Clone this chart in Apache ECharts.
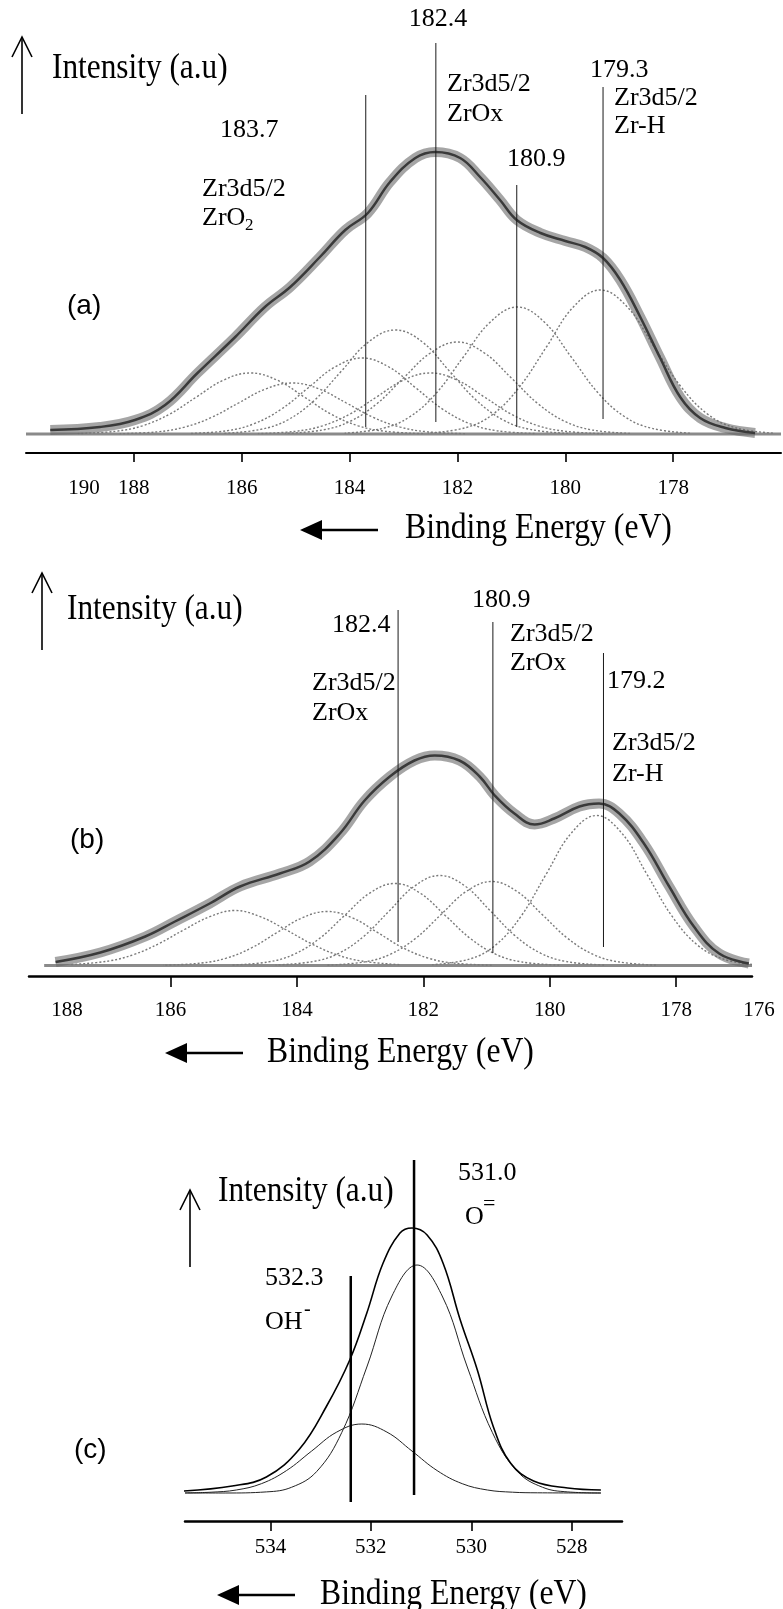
<!DOCTYPE html>
<html>
<head>
<meta charset="utf-8">
<script src="https://cdn.jsdelivr.net/npm/echarts@6/dist/echarts.min.js"></script>
<style>
html,body{margin:0;padding:0;background:#fff;}
#chart{width:783px;height:1609px;}
</style>
</head>
<body>
<div id="chart"></div>
<script>
// ---------- DATA ----------
// Panel (a): Zr3d5/2, binding energy (eV) vs intensity (a.u.)
const ticksA = [188, 186, 184, 182, 180, 178];
const envelopeA = [[189.55,4],[188.63,7],[187.98,14],[187.42,29],[186.82,61],[186.12,97],[185.57,127],[185.10,147],[184.55,177],[184.08,204],[183.66,221],[183.25,252],[182.78,276],[182.41,282],[181.95,276],[181.58,257],[181.21,234],[180.90,214],[180.46,201],[180.00,193],[179.63,187],[179.30,176],[178.98,154],[178.61,117],[178.24,76],[177.87,37],[177.50,16],[177.03,6],[176.48,1]];
const compA1 = [[182.64,0.4],[183.34,2.7],[183.84,8.2],[184.34,19.8],[184.84,37],[185.34,53.8],[185.84,61],[186.34,53.8],[186.84,37],[187.34,19.8],[187.84,8.2],[188.34,2.7],[189.04,0.4]];
const compA2 = [[181.86,0.3],[182.56,2.2],[183.06,6.9],[183.56,16.6],[184.06,31],[184.56,45],[185.06,51],[185.56,45],[186.06,31],[186.56,16.6],[187.06,6.9],[187.56,2.2],[188.26,0.3]];
const compA3 = [[180.57,0.5],[181.27,3.3],[181.77,10.3],[182.27,24.7],[182.77,46],[183.27,67],[183.77,76],[184.27,67],[184.77,46],[185.27,24.7],[185.77,10.3],[186.27,3.3],[186.97,0.5]];
const compA4 = [[179.95,0.6],[180.65,4.6],[181.15,14],[181.65,33.8],[182.15,63],[182.65,92],[183.15,104],[183.65,92],[184.15,63],[184.65,33.8],[185.15,14],[185.65,4.6],[186.35,0.6]];
const compA5 = [[179.30,0.4],[180.00,2.7],[180.50,8.2],[181.00,19.8],[181.50,37],[182.00,53.8],[182.50,61],[183.00,53.8],[183.50,37],[184.00,19.8],[184.50,8.2],[185.00,2.7],[185.70,0.4]];
const compA6 = [[178.80,0.6],[179.50,4],[180.00,12.4],[180.50,30],[181.00,56],[181.50,81],[182.00,92],[182.50,81],[183.00,56],[183.50,30],[184.00,12.4],[184.50,4],[185.20,0.6]];
const compA7 = [[177.69,0.8],[178.39,5.6],[178.89,17],[179.39,41],[179.89,77],[180.39,112],[180.89,127],[181.39,112],[181.89,77],[182.39,41],[182.89,17],[183.39,5.6],[184.09,0.8]];
const compA8 = [[176.15,0.9],[176.85,6.3],[177.35,19.4],[177.85,47],[178.35,87],[178.85,127],[179.35,144],[179.85,127],[180.35,87],[180.85,47],[181.35,19.4],[181.85,6.3],[182.55,0.9]];
const baselineA = [[190,0],[176,0]];
const peakEnergyA = [183.7, 182.4, 180.9, 179.3];
const peakLowA = [7, 12, 7, 15];
const peakHighA = [339, 391, 249, 347];

// Panel (b)
const ticksB = [186, 184, 182, 180, 178];
const envelopeB = [[187.82,3.5],[187.11,13],[186.40,29],[185.93,44],[185.38,62],[184.90,79],[184.27,92],[183.80,104],[183.32,132],[182.93,165],[182.53,189],[182.14,205],[181.82,210],[181.43,205],[181.11,189],[180.87,170],[180.56,152],[180.24,141],[179.93,147],[179.53,159],[179.22,162],[178.90,152],[178.51,122],[178.11,79],[177.72,39],[177.32,12],[176.85,2]];
const compB1 = [[182.38,0.9],[182.98,4.5],[183.38,11],[183.78,22],[184.18,36],[184.58,48.8],[184.98,55],[185.38,48.8],[185.78,36],[186.18,22],[186.58,11],[186.98,4.5],[187.58,0.9]];
const compB2 = [[180.92,0.3],[181.52,2.4],[181.92,7.3],[182.32,17.6],[182.72,32.8],[183.12,47.6],[183.52,54],[183.92,47.6],[184.32,32.8],[184.72,17.6],[185.12,7.3],[185.52,2.4],[186.12,0.3]];
const compB3 = [[179.85,0.4],[180.45,3.6],[180.85,11.1],[181.25,26.7],[181.65,49.8],[182.05,72.3],[182.45,82],[182.85,72.3],[183.25,49.8],[183.65,26.7],[184.05,11.1],[184.45,3.6],[185.05,0.4]];
const compB4 = [[179.14,0.5],[179.74,4],[180.14,12.2],[180.54,29.3],[180.94,54.6],[181.34,79.4],[181.74,90],[182.14,79.4],[182.54,54.6],[182.94,29.3],[183.34,12.2],[183.74,4],[184.34,0.5]];
const compB5 = [[178.32,0.4],[178.92,3.7],[179.32,11.3],[179.72,27.3],[180.12,51],[180.52,74.1],[180.92,84],[181.32,74.1],[181.72,51],[182.12,27.3],[182.52,11.3],[182.92,3.7],[183.52,0.4]];
const compB6 = [[176.80,1],[177.26,6.6],[177.66,20.3],[178.06,48.8],[178.46,91],[178.86,132.3],[179.26,150],[179.66,132.3],[180.06,91],[180.46,48.8],[180.86,20.3],[181.26,6.6],[181.86,0.8]];
const baselineB = [[188.0,0],[176.8,0]];
const peakEnergyB = [182.4, 180.9, 179.15];
const peakLowB = [23.5, 12.5, 18.5];
const peakHighB = [355.5, 343.5, 312.5];

// Panel (c): O1s
const ticksC = [534, 532, 530, 528];
const envelopeC = [[535.72,2],[534.76,7],[534.08,16],[533.42,44],[532.88,87],[532.42,133],[532.08,180],[531.76,229.5],[531.42,260],[531.18,265],[530.88,258],[530.56,229.5],[530.22,173],[529.88,123],[529.56,66],[529.22,30],[528.76,12],[528.08,5],[527.42,3]];
const compO = [[527.42,0],[528.08,1.1],[528.58,5.7],[529.08,21.4],[529.58,60.4],[530.08,126],[530.58,197],[531.08,228],[531.58,197],[532.08,126],[532.58,60.4],[533.08,21.4],[533.58,5.7],[534.08,1.1],[534.90,0],[535.70,0]];
const compOH = [[527.42,0],[528.68,0.2],[529.18,0.8],[529.68,3.0],[530.18,9.3],[530.68,22.4],[531.18,41.9],[531.68,60.9],[532.18,69],[532.68,60.9],[533.18,41.9],[533.68,22.4],[534.18,9.3],[534.68,3.0],[535.18,0.8],[535.70,0.1]];
const peakEnergyC = [531.14, 532.4];
const peakLowC = [-2, -9];
const peakHighC = [333, 217];

// ---------- CHART ----------
const SERIF = 'Liberation Serif';
const SANS = 'Liberation Sans';

function line(idx, data, style, smooth, z) {
  return {type:'line', xAxisIndex:idx, yAxisIndex:idx, data:data, symbol:'none', showSymbol:false,
    smooth: smooth, lineStyle: style, silent:true, z: z || 2, animation:false};
}
function vlines(idx, es, lo, hi, style) {
  return es.map((e, i) => line(idx, [[e, lo[i]], [e, hi[i]]], style, false, 5));
}
function xAxisCfg(idx, min, max, ticks, margin, tickLen, axisW) {
  return {type:'value', gridIndex:idx, min:min, max:max, inverse:true,
    axisLine:{show:true, onZero:false, lineStyle:{color:'#000', width:axisW}},
    axisTick:{show:true, customValues:ticks, length:tickLen, lineStyle:{color:'#000', width:1.6}},
    axisLabel:{show:true, customValues:ticks, margin:margin, color:'#000', fontFamily:SERIF, fontSize:21},
    splitLine:{show:false}};
}

const compStyle = {color:'#7a7a7a', width:1.4, type:[2,2]};
const bandStyle = {color:'rgba(105,105,105,0.6)', width:10};
const coreStyle = {color:'#3a3a3a', width:2.5};
const vStyle = {color:'#1a1a1a', width:1};

const series = [];
// (a)
series.push(line(0, baselineA, {color:'#8a8a8a', width:3}, false, 1));
[compA1, compA2, compA3, compA4, compA5, compA6, compA7, compA8].forEach(c => series.push(line(0, c, compStyle, 0.4, 2)));
series.push(line(0, envelopeA, bandStyle, 0.4, 3));
series.push(line(0, envelopeA, coreStyle, 0.4, 4));
series.push(...vlines(0, peakEnergyA, peakLowA, peakHighA, vStyle));
// (b)
series.push(line(1, baselineB, {color:'#8a8a8a', width:3}, false, 1));
[compB1, compB2, compB3, compB4, compB5, compB6].forEach(c => series.push(line(1, c, compStyle, 0.4, 2)));
series.push(line(1, envelopeB, bandStyle, 0.4, 3));
series.push(line(1, envelopeB, coreStyle, 0.4, 4));
series.push(...vlines(1, peakEnergyB, peakLowB, peakHighB, vStyle));
// (c)
series.push(line(2, compO, {color:'#222', width:1}, 0.4, 2));
series.push(line(2, compOH, {color:'#222', width:1}, 0.4, 2));
series.push(line(2, envelopeC, {color:'#000', width:1.6}, 0.4, 3));
series.push(...vlines(2, peakEnergyC, peakLowC, peakHighC, {color:'#000', width:2.5}));

// text annotations: [text, x, y, size, family, align, scaleX]
const texts = [
  ['Intensity (a.u)', 52, 69, 36, SERIF, 'left', 0.87],
  ['182.4', 438, 19, 26, SERIF, 'center', 1],
  ['Zr3d5/2', 447, 84, 26, SERIF, 'left', 1],
  ['ZrOx', 447, 114, 26, SERIF, 'left', 1],
  ['179.3', 590, 70, 26, SERIF, 'left', 1],
  ['Zr3d5/2', 614, 98, 26, SERIF, 'left', 1],
  ['Zr-H', 614, 126, 26, SERIF, 'left', 1],
  ['183.7', 220, 130, 26, SERIF, 'left', 1],
  ['180.9', 507, 159, 26, SERIF, 'left', 1],
  ['Zr3d5/2', 202, 189, 26, SERIF, 'left', 1],
  ['ZrO', 202, 218, 26, SERIF, 'left', 1],
  ['2', 245, 226, 17, SERIF, 'left', 1],
  ['(a)', 67, 306, 28, SANS, 'left', 1],
  ['190', 84, 488, 21, SERIF, 'center', 1],
  ['Binding Energy (eV)', 405, 529, 36, SERIF, 'left', 0.88],

  ['Intensity (a.u)', 67, 610, 36, SERIF, 'left', 0.87],
  ['182.4', 332, 625, 26, SERIF, 'left', 1],
  ['Zr3d5/2', 312, 683, 26, SERIF, 'left', 1],
  ['ZrOx', 312, 713, 26, SERIF, 'left', 1],
  ['180.9', 472, 600, 26, SERIF, 'left', 1],
  ['Zr3d5/2', 510, 634, 26, SERIF, 'left', 1],
  ['ZrOx', 510, 663, 26, SERIF, 'left', 1],
  ['179.2', 607, 681, 26, SERIF, 'left', 1],
  ['Zr3d5/2', 612, 743, 26, SERIF, 'left', 1],
  ['Zr-H', 612, 774, 26, SERIF, 'left', 1],
  ['(b)', 70, 840, 28, SANS, 'left', 1],
  ['188', 67, 1010, 21, SERIF, 'center', 1],
  ['176', 759, 1010, 21, SERIF, 'center', 1],
  ['Binding Energy (eV)', 267, 1053, 36, SERIF, 'left', 0.88],

  ['Intensity (a.u)', 218, 1192, 36, SERIF, 'left', 0.87],
  ['531.0', 458, 1173, 26, SERIF, 'left', 1],
  ['O', 465, 1217, 26, SERIF, 'left', 1],
  ['=', 483, 1204, 22, SERIF, 'left', 1],
  ['532.3', 265, 1278, 26, SERIF, 'left', 1],
  ['OH', 265, 1322, 26, SERIF, 'left', 1],
  ['-', 304, 1310, 20, SERIF, 'left', 1],
  ['(c)', 74, 1450, 28, SANS, 'left', 1],
  ['Binding Energy (eV)', 320, 1595, 36, SERIF, 'left', 0.88]
];

const graphics = texts.map(t => ({
  type:'text', x:t[1], y:t[2], scaleX:t[6], silent:true, z:10,
  style:{text:t[0], fill:'#000', fontSize:t[3], fontFamily:t[4], textAlign:t[5], textVerticalAlign:'middle'}
}));

function upArrow(x, y1, y2) {
  graphics.push({type:'polyline', silent:true, z:10, shape:{points:[[x, y2], [x, y1]]}, style:{stroke:'#000', lineWidth:1.6, fill:null}});
  graphics.push({type:'polyline', silent:true, z:10, shape:{points:[[x-10, y1+20], [x, y1], [x+10, y1+20]]}, style:{stroke:'#000', lineWidth:1.6, fill:null}});
}
function leftArrow(x1, x2, y) {
  graphics.push({type:'polyline', silent:true, z:10, shape:{points:[[x1+20, y], [x2, y]]}, style:{stroke:'#000', lineWidth:2.5, fill:null}});
  graphics.push({type:'polygon', silent:true, z:10, shape:{points:[[x1, y], [x1+22, y-10], [x1+22, y+10]]}, style:{fill:'#000'}});
}
upArrow(22, 37, 114);
upArrow(42, 573, 650);
upArrow(190, 1190, 1267);
leftArrow(300, 378, 530);
leftArrow(165, 243, 1053);
leftArrow(217, 295, 1595);

const chart = echarts.init(document.getElementById('chart'), null, {renderer:'canvas'});
chart.setOption({
  animation:false,
  backgroundColor:'#fff',
  grid:[
    {left:26, right:2, top:40, height:413},
    {left:29, right:31, top:560, height:416},
    {left:185, right:161, top:1150, height:371}
  ],
  xAxis:[
    xAxisCfg(0, 176, 190, ticksA, 25, 9, 2),
    xAxisCfg(1, 176.8, 188.24, ticksB, 24, 11, 2.5),
    xAxisCfg(2, 527.0, 535.7, ticksC, 16, 10, 2.5)
  ],
  yAxis:[
    {type:'value', gridIndex:0, min:-19, max:394, show:false},
    {type:'value', gridIndex:1, min:-10.5, max:405.5, show:false},
    {type:'value', gridIndex:2, min:-28, max:343, show:false}
  ],
  series:series,
  graphic:graphics
});
</script>
</body>
</html>
